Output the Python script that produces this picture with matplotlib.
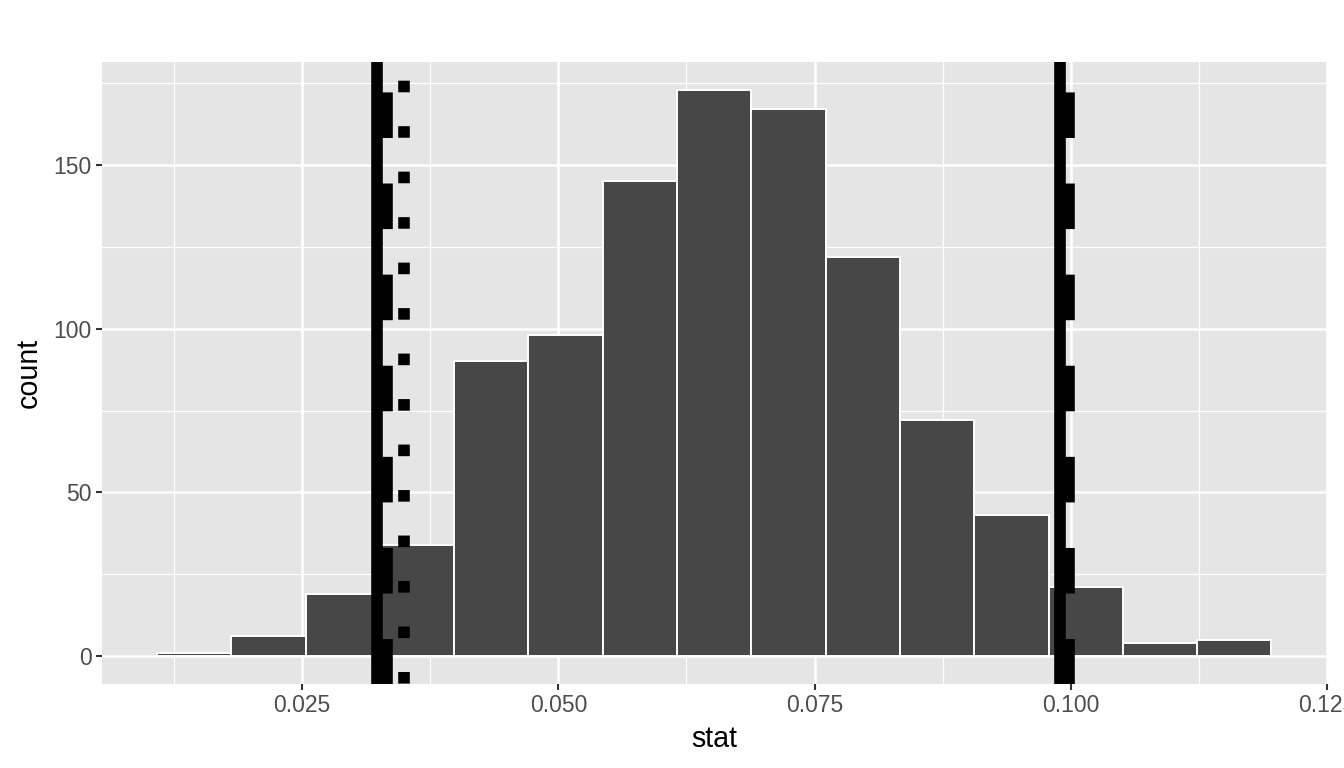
import matplotlib
matplotlib.use("Agg")
import matplotlib.pyplot as plt
import numpy as np

# histogram of the bootstrap statistic
bin_lo = 0.01082
bin_w = 0.007252
counts = [1, 6, 19, 34, 90, 98, 145, 173, 167, 122, 72, 43, 21, 4, 5]

# interval endpoints
solid_x = [0.03231, 0.09898]
dashed_x = [0.03328, 0.09983]
dotted_x = [0.03497]

x_ticks = [0.025, 0.050, 0.075, 0.100, 0.125]
x_labels = ["0.025", "0.050", "0.075", "0.100", "0.125"]
y_ticks = [0, 50, 100, 150]

plt.rcParams['font.family'] = ['Liberation Sans', 'DejaVu Sans']
plt.rcParams['lines.scale_dashes'] = False

fig = plt.figure(figsize=(13.44, 7.68), dpi=100)
ax = fig.add_axes([102/1344, 1-683.5/768, (1327-102)/1344, (683.5-62)/768])
ax.set_facecolor('#E5E5E5')

xmin, xmax = 0.00546, 0.12502
ymin, ymax = -8.4, 181.5
ax.set_xlim(xmin, xmax)
ax.set_ylim(ymin, ymax)

# grid
for v in [0.0125, 0.0375, 0.0625, 0.0875, 0.1125]:
    ax.axvline(v, color='white', lw=0.9, zorder=0)
for v in [25, 75, 125, 175]:
    ax.axhline(v, color='white', lw=0.9, zorder=0)
for v in x_ticks:
    ax.axvline(v, color='white', lw=1.8, zorder=0)
for v in y_ticks:
    ax.axhline(v, color='white', lw=1.8, zorder=0)

edges = bin_lo + bin_w*np.arange(len(counts))
ax.bar(edges, counts, width=bin_w, align='edge', color='#474747',
       edgecolor='white', linewidth=1.4, zorder=2)

lw = 8.35
for x in solid_x:
    ax.plot([x, x], [ymax, ymin], color='black', lw=lw, solid_capstyle='butt', zorder=3)
for x in dashed_x:
    ax.plot([x, x], [ymax, ymin], color='black', lw=lw, dash_capstyle='butt',
            linestyle=(43.7, (32.8, 32.8)), zorder=3)
for x in dotted_x:
    ax.plot([x, x], [ymax, ymin], color='black', lw=lw, dash_capstyle='butt',
            linestyle=(19.3, (8.35, 24.4)), zorder=3)

for s in ax.spines.values():
    s.set_visible(False)

ax.set_xticks(x_ticks)
ax.set_xticklabels(x_labels)
ax.set_yticks(y_ticks)
ax.tick_params(axis='both', length=4.2, width=1.5, color='#333333',
               labelcolor='#4D4D4D', labelsize=16.5, pad=3)

ax.set_xlabel("stat", fontsize=20.6, color='black', labelpad=6)
ax.set_ylabel("count", fontsize=20.6, color='black', labelpad=8)

fig.savefig("out.png", dpi=100)
